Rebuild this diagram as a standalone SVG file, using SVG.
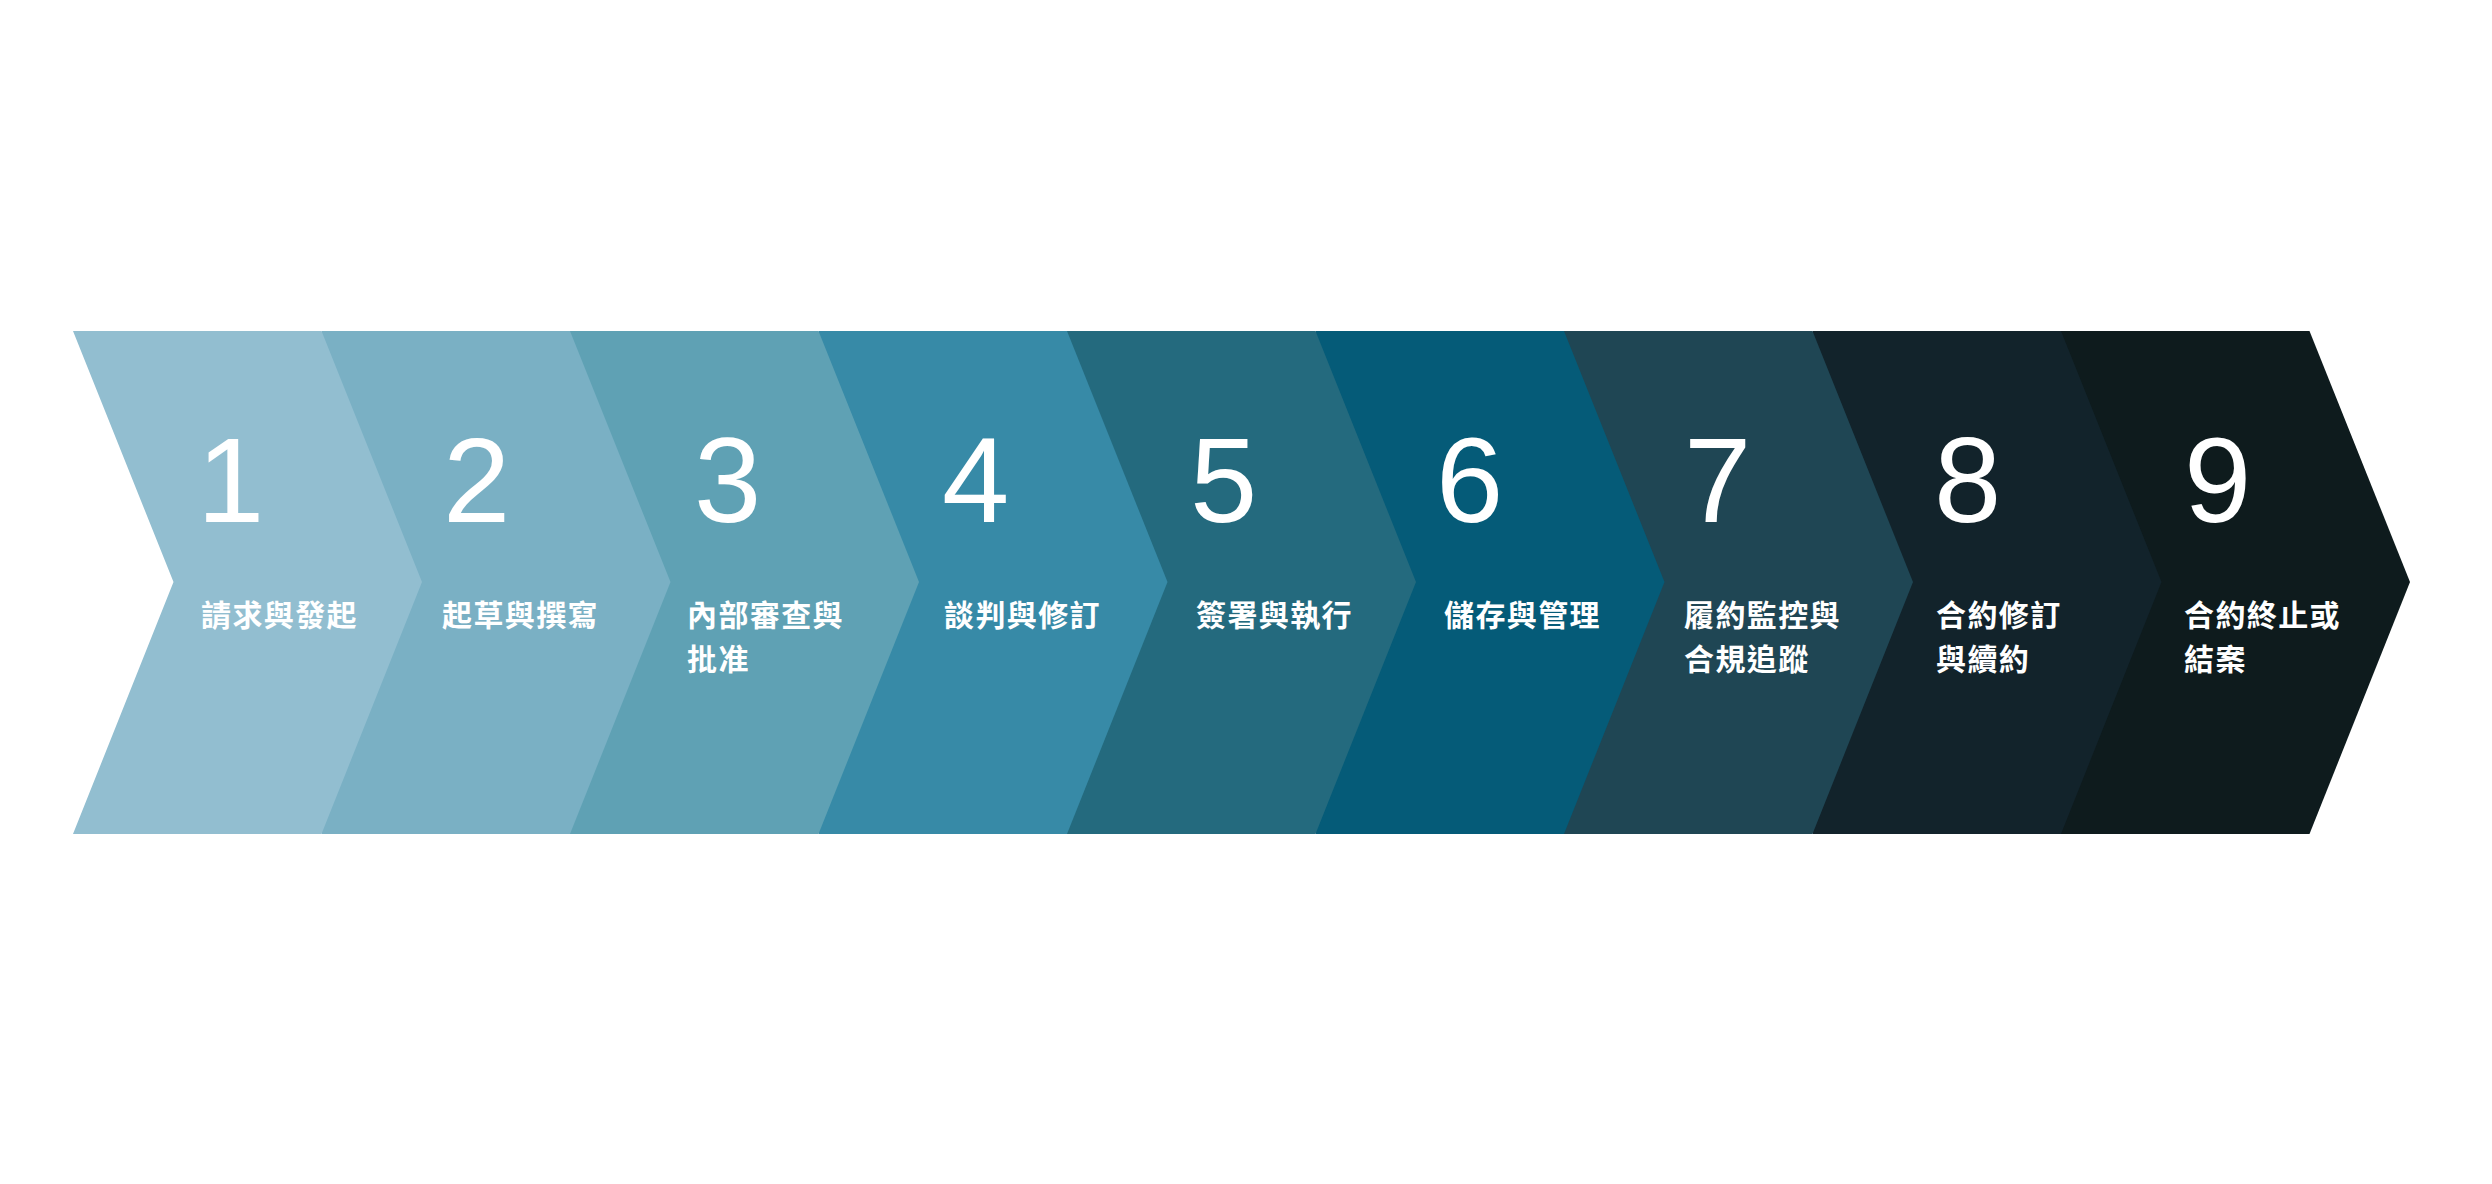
<svg xmlns="http://www.w3.org/2000/svg" width="2492" height="1184" viewBox="0 0 2492 1184">
<style>
.num{font-family:"Liberation Sans",Arial,sans-serif;font-size:121px;fill:#ffffff}
.lbl{font-family:"Noto Sans CJK TC","Noto Sans CJK SC",sans-serif;font-size:30px;font-weight:700;fill:#ffffff;letter-spacing:1.4px}
</style>
<rect width="2492" height="1184" fill="#ffffff"/>
<g id="step9"><polygon points="2061,331 2309.5,331 2410,582 2309.5,834 2061,834" fill="#0E1B1D"/><text class="num" x="2184" y="522">9</text><text class="lbl" x="2184" y="626">合約終止或</text><text class="lbl" x="2184" y="670">結案</text></g>
<g id="step8"><polygon points="1812.5,331 2061,331 2161.5,582 2061,834 1812.5,834" fill="#12232B"/><text class="num" x="1934" y="522">8</text><text class="lbl" x="1936" y="626">合約修訂</text><text class="lbl" x="1936" y="670">與續約</text></g>
<g id="step7"><polygon points="1564,331 1812.5,331 1913,582 1812.5,834 1564,834" fill="#1F4654"/><text class="num" x="1684" y="522">7</text><text class="lbl" x="1684" y="626">履約監控與</text><text class="lbl" x="1684" y="670">合規追蹤</text></g>
<g id="step6"><polygon points="1315.5,331 1564,331 1664.5,582 1564,834 1315.5,834" fill="#055B78"/><text class="num" x="1436" y="522">6</text><text class="lbl" x="1444" y="626">儲存與管理</text></g>
<g id="step5"><polygon points="1067,331 1315.5,331 1416,582 1315.5,834 1067,834" fill="#246A7E"/><text class="num" x="1190" y="522">5</text><text class="lbl" x="1196" y="626">簽署與執行</text></g>
<g id="step4"><polygon points="818.5,331 1067,331 1167.5,582 1067,834 818.5,834" fill="#378AA7"/><text class="num" x="942" y="522">4</text><text class="lbl" x="944" y="626">談判與修訂</text></g>
<g id="step3"><polygon points="570,331 818.5,331 919,582 818.5,834 570,834" fill="#5FA1B4"/><text class="num" x="694" y="522">3</text><text class="lbl" x="687" y="626">內部審查與</text><text class="lbl" x="687" y="670">批准</text></g>
<g id="step2"><polygon points="321.5,331 570,331 670.5,582 570,834 321.5,834" fill="#7AB0C4"/><text class="num" x="443" y="522">2</text><text class="lbl" x="442" y="626">起草與撰寫</text></g>
<g id="step1"><polygon points="73,331 321.5,331 422,582 321.5,834 73,834 173.5,582" fill="#92BED0"/><text class="num" x="197" y="522">1</text><text class="lbl" x="201" y="626">請求與發起</text></g>
<g id="connectors"></g>
</svg>
